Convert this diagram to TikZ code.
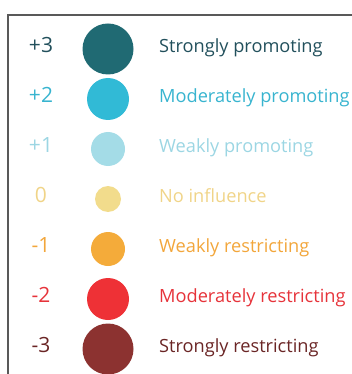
\documentclass[tikz,border=0pt]{standalone}
\usepackage{fontspec}
\setmainfont{Open Sans}
\usetikzlibrary{positioning}
\definecolor{pos3}{HTML}{206A73}
\definecolor{pos2}{HTML}{31BAD6}
\definecolor{pos1}{HTML}{A4DCE7}
\definecolor{zero}{HTML}{F2DC8C}
\definecolor{neg1}{HTML}{F4AB3A}
\definecolor{neg2}{HTML}{EE3136}
\definecolor{neg3}{HTML}{8C3230}
\definecolor{pos3txt}{HTML}{22505C}
\definecolor{pos2txt}{HTML}{38B4CF}
\definecolor{pos1txt}{HTML}{9CD6E3}
\definecolor{zerotxt}{HTML}{F0D488}
\definecolor{neg1txt}{HTML}{F2A63B}
\definecolor{neg2txt}{HTML}{E6333A}
\definecolor{neg3txt}{HTML}{6A2525}
\tikzset{%
  score/.style={inner sep=0pt,font=\fontsize{21}{24}\selectfont,
    text height=1.34ex,text depth=0pt},
  dot/.style={circle,inner sep=0pt,minimum size=#1},
  effect/.style={inner sep=0pt,anchor=west,font=\fontsize{18.2}{22}\selectfont,
    text height=1.34ex,text depth=0pt}
}

\begin{document}
\begin{tikzpicture}[x=1pt,y=-1pt,on grid,node distance=50pt]
    \useasboundingbox (0,0) rectangle (352,374);
    \draw [line width=1.5pt,black!65] (8,374) |- (352,15);

    \node [score,text=pos3txt] (s3) at (41,49) {+3};
    \node [score,text=pos2txt] (s2) [below=of s3] {+2};
    \node [score,text=pos1txt] (s1) [below=of s2] {+1};
    \node [score,text=zerotxt] (s0) [below=of s1] {0};
    \node [score,text=neg1txt] (sm1) [below=of s0] {-1};
    \node [score,text=neg2txt] (sm2) [below=of sm1] {-2};
    \node [score,text=neg3txt] (sm3) [below=of sm2] {-3};

    \node [dot=51pt,fill=pos3] (d3) [right=67pt of s3] {};
    \node [dot=42pt,fill=pos2] (d2) [right=67pt of s2] {};
    \node [dot=34pt,fill=pos1] (d1) [right=67pt of s1] {};
    \node [dot=26pt,fill=zero] (d0) [right=67pt of s0] {};
    \node [dot=34pt,fill=neg1] (dm1) [right=67pt of sm1] {};
    \node [dot=42pt,fill=neg2] (dm2) [right=67pt of sm2] {};
    \node [dot=51pt,fill=neg3] (dm3) [right=67pt of sm3] {};

    \node [effect,text=pos3txt] (e3) [right=51pt of d3,anchor=west] {Strongly promoting};
    \node [effect,text=pos2txt] (e2) [right=51pt of d2,anchor=west] {Moderately promoting};
    \node [effect,text=pos1txt] (e1) [right=51pt of d1,anchor=west] {Weakly promoting};
    \node [effect,text=zerotxt] (e0) [right=51pt of d0,anchor=west] {No influence};
    \node [effect,text=neg1txt] (em1) [right=51pt of dm1,anchor=west] {Weakly restricting};
    \node [effect,text=neg2txt] (em2) [right=51pt of dm2,anchor=west] {Moderately restricting};
    \node [effect,text=neg3txt] (em3) [right=51pt of dm3,anchor=west] {Strongly restricting};
  \end{tikzpicture}
\end{document}
